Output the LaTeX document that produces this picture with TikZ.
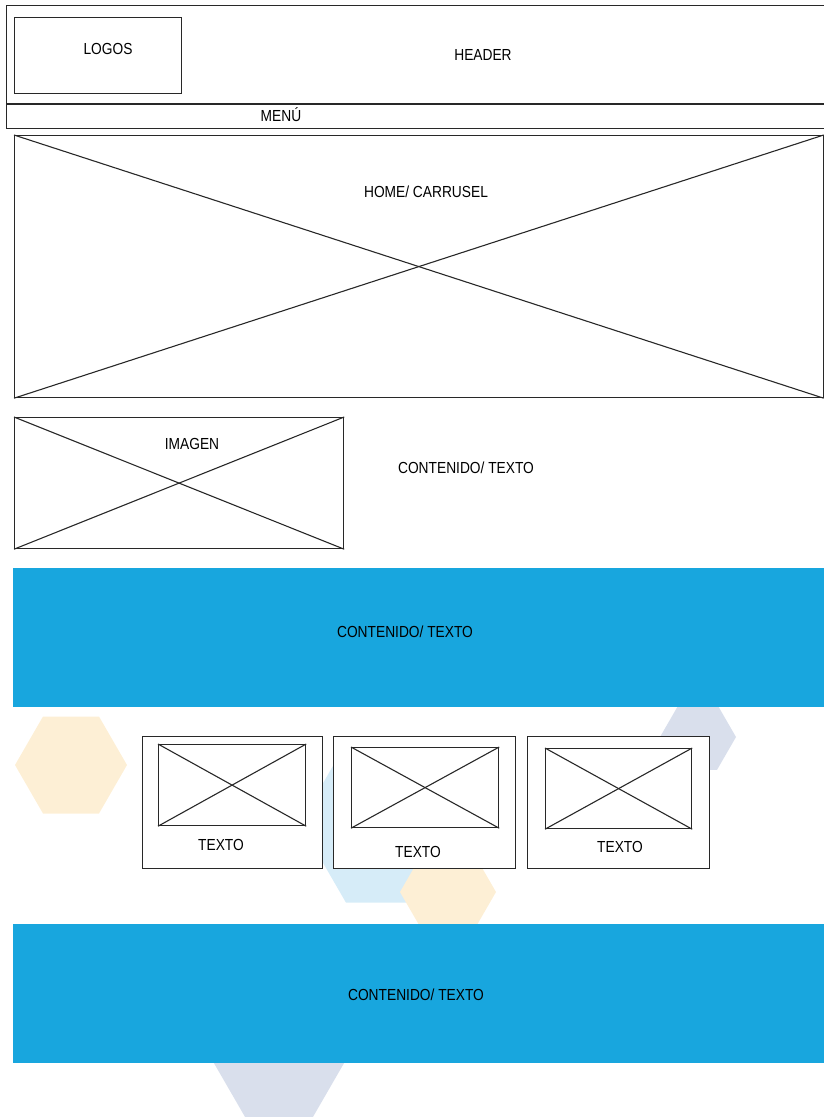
\documentclass[tikz,border=0pt]{standalone}
\usepackage{fontspec}
\setmainfont{Liberation Sans}[FakeStretch=0.86]
\usetikzlibrary{shapes.geometric,positioning}

\definecolor{bandblue}{RGB}{24,166,222}
\definecolor{hexorange}{RGB}{253,239,213}
\definecolor{hexblue}{RGB}{214,236,248}
\definecolor{hexgrey}{RGB}{217,223,236}
\definecolor{wire}{RGB}{40,40,40}

\begin{document}
\begin{tikzpicture}[
    x=1pt, y=-1pt,
    frame/.style={rectangle, draw=wire, line width=1.2pt, inner sep=0pt, anchor=north west},
    band/.style={rectangle, fill=bandblue, inner sep=0pt, anchor=north west, minimum width=820pt, minimum height=139pt},
    label/.style={font=\fontsize{16}{18}\selectfont, text height=11.5pt, text depth=0pt, inner sep=0pt},
    hexa/.style={regular polygon, regular polygon sides=6, inner sep=0pt, outer sep=0pt},
    cross/.style={draw=wire, line width=1.1pt}
]
    \useasboundingbox (0,0) rectangle (823,1117);

    % background hexagons
    \node[hexa, fill=hexorange, minimum size=112pt] (hexL) at (71,765) {};
    \node[hexa, fill=hexgrey, minimum size=76pt] (hexR) at (698,737) {};
    \node[hexa, fill=hexblue, minimum size=184pt] (hexM) at (392,823) {};
    \node[hexa, fill=hexorange, minimum size=96pt] (hexS) at (448,892) {};
    \node[hexa, fill=hexgrey, minimum size=136pt] (hexB) at (279,1058) {};

    % header and menu
    \node[frame, minimum width=830pt, minimum height=98pt] (header) at (6,5) {};
    \node[frame, minimum width=830pt, minimum height=24pt] (menu) at (header.south west) {};
    \node[frame, minimum width=167pt, minimum height=76pt] (logos) at (14,17) {};
    \node[label] (logostxt) at (108,49) {LOGOS};
    \node[label] (headertxt) at (483,55) {HEADER};
    \node[label] (menutxt) at (281,116) {MENÚ};

    % carrusel
    \node[frame, minimum width=808.5pt, minimum height=262pt] (home) at (14,135) {};
    \draw[cross] (home.north west) -- (home.south east);
    \draw[cross] (home.south west) -- (home.north east);
    \node[label] (hometxt) at (426,192) {HOME/ CARRUSEL};

    % imagen + texto
    \node[frame, minimum width=329pt, minimum height=131pt] (img) at (14,417) {};
    \draw[cross] (img.north west) -- (img.south east);
    \draw[cross] (img.south west) -- (img.north east);
    \node[label] (imgtxt) at (192,444) {IMAGEN};
    \node[label] (contA) at (466,468) {CONTENIDO/ TEXTO};

    % blue bands
    \node[band] (bandA) at (13,568) {};
    \node[label] (contB) at (405,632) {CONTENIDO/ TEXTO};
    \node[band] (bandB) at (13,924) {};
    \node[label] (contC) at (416,995) {CONTENIDO/ TEXTO};

    % cards
    \node[frame, fill=white, minimum width=180pt, minimum height=132pt] (card1) at (142,736) {};
    \node[frame, minimum width=147pt, minimum height=81pt] (pic1) at (158,744) {};
    \draw[cross] (pic1.north west) -- (pic1.south east);
    \draw[cross] (pic1.south west) -- (pic1.north east);
    \node[label] (txt1) at (221,845) {TEXTO};

    \node[frame, fill=white, minimum width=182pt, minimum height=132pt] (card2) at (333,736) {};
    \node[frame, minimum width=147pt, minimum height=80pt] (pic2) at (351,747) {};
    \draw[cross] (pic2.north west) -- (pic2.south east);
    \draw[cross] (pic2.south west) -- (pic2.north east);
    \node[label] (txt2) at (418,852) {TEXTO};

    \node[frame, fill=white, minimum width=182pt, minimum height=132pt] (card3) at (527,736) {};
    \node[frame, minimum width=146pt, minimum height=80pt] (pic3) at (545,748) {};
    \draw[cross] (pic3.north west) -- (pic3.south east);
    \draw[cross] (pic3.south west) -- (pic3.north east);
    \node[label] (txt3) at (620,847) {TEXTO};
\end{tikzpicture}
\end{document}
